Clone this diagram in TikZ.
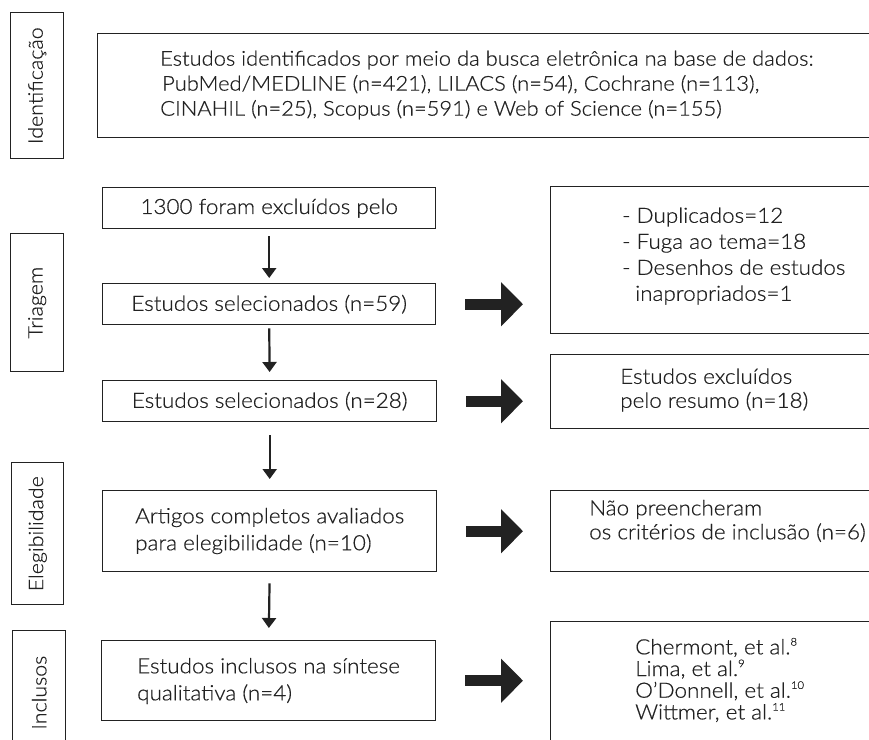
\documentclass[tikz,border=0pt]{standalone}
\usepackage{fontspec}
\setmainfont{Lato Light}[FakeStretch=1.07, FakeBold=0.5, Numbers=Lining]
\usetikzlibrary{arrows.meta}
\definecolor{ink}{HTML}{222222}
\newcommand{\supr}[1]{\raisebox{0.42em}{\fontsize{10.5}{10.5}\selectfont #1}}
\begin{document}
\begin{tikzpicture}[x=1pt,y=-1pt,
  box/.style={draw=ink, line width=1.4pt, inner sep=0pt, anchor=north west},
  txt/.style={text=ink, inner sep=0pt, align=left, font=\fontsize{21}{25.5}\selectfont},
  labtxt/.style={text=ink, inner sep=0pt, rotate=90, font=\fontsize{20}{24}\selectfont},
  thinarrow/.style={draw=ink, line width=2.2pt, -{Triangle[length=10pt,width=14pt]}},
  fatarrow/.style={draw=ink, line width=11pt, -{Triangle[length=22pt,width=43pt]}}
]
\clip (0,0) rectangle (869,739);
\fill[white] (0,0) rectangle (869,739);

% stage labels
\node[box, minimum width=53pt, minimum height=146pt] (labI) at (10,12) {};
\node[labtxt] (labIt) at (labI.center) {Identificação};
\node[box, minimum width=53pt, minimum height=138pt] (labT) at (10,233) {};
\node[labtxt] (labTt) at (labT.center) {Triagem};
\node[box, minimum width=52pt, minimum height=142pt] (labE) at (11,462) {};
\node[labtxt] (labEt) at (labE.center) {Elegibilidade};
\node[box, minimum width=53pt, minimum height=124pt] (labN) at (12,630) {};
\node[labtxt] (labNt) at (labN.center) {Inclusos};

% main column
\node[box, minimum width=800pt, minimum height=104pt] (T) at (97,33) {};
\node[txt, anchor=west, font=\fontsize{20.5}{25}\selectfont] (Tt) at (160,85) {Estudos identificados por meio da busca eletrônica na base de dados:\\
\hspace{2pt}PubMed/MEDLINE (n=421), LILACS (n=54), Cochrane (n=113),\\
CINAHIL (n=25), Scopus (n=591) e Web of Science (n=155)};

\node[box, minimum width=333pt, minimum height=41pt] (B1) at (102,187) {};
\node[txt] (B1t) at (B1.center) {1300 foram excluídos pelo};
\node[box, minimum width=333pt, minimum height=41pt] (B2) at (102,283) {};
\node[txt] (B2t) at (B2.center) {Estudos selecionados (n=59)};
\node[box, minimum width=334pt, minimum height=41pt] (B3) at (102,380) {};
\node[txt] (B3t) at (B3.center) {Estudos selecionados (n=28)};
\node[box, minimum width=334pt, minimum height=81pt] (B4) at (102,490) {};
\node[txt, anchor=west, font=\fontsize{21}{27}\selectfont] (B4t) at (135,531) {Artigos completos avaliados\\para elegibilidade (n=10)};
\node[box, minimum width=334pt, minimum height=80pt] (B5) at (101,640) {};
\node[txt, anchor=west, font=\fontsize{21}{27}\selectfont] (B5t) at (137,681) {Estudos inclusos na síntese\\qualitativa (n=4)};

% right column
\node[box, minimum width=340pt, minimum height=147pt] (R1) at (550,186) {};
\node[txt, anchor=west, font=\fontsize{21}{26}\selectfont] (R1t) at (622,256) {- Duplicados=12\\- Fuga ao tema=18\\- Desenhos de estudos\\\hspace{13pt}inapropriados=1};
\node[box, minimum width=340pt, minimum height=74pt] (R2) at (550,354) {};
\node[txt, anchor=west, font=\fontsize{21}{24}\selectfont] (R2t) at (620,390) {Estudos excluídos\\pelo resumo (n=18)};
\node[box, minimum width=340pt, minimum height=81pt] (R3) at (550,490) {};
\node[txt, anchor=west, font=\fontsize{21}{24}\selectfont] (R3t) at (589,521) {Não preencheram\\os critérios de inclusão (n=6)};
\node[box, minimum width=340pt, minimum height=140pt] (R4) at (550,621) {};
\node[txt, anchor=west, font=\fontsize{21}{21.7}\selectfont] (R4t) at (635,680) {Chermont, et al.\supr{8}\\Lima, et al.\supr{9}\\O’Donnell, et al.\supr{10}\\Wittmer, et al.\supr{11}};

% vertical arrows
\draw[thinarrow, shorten <=7pt, shorten >=5pt] (B1.south) -- (B2.north);
\draw[thinarrow, shorten <=3pt, shorten >=8pt] (B2.south) -- (B3.north);
\draw[thinarrow, shorten <=13pt, shorten >=11pt] (B3.south) -- (B4.north);
\draw[thinarrow, shorten <=11pt, shorten >=12pt] (B4.south) -- (B5.north);

% horizontal fat arrows
\draw[fatarrow, shorten <=29pt, shorten >=27pt] (B2.east) -- (B2.east -| R1.west);
\draw[fatarrow, shorten <=29pt, shorten >=27pt] (B3.east) -- (B3.east -| R2.west);
\draw[fatarrow, shorten <=29pt, shorten >=27pt] (B4.east) -- (B4.east -| R3.west);
\draw[fatarrow, shorten <=29pt, shorten >=27pt] (B5.east) -- (B5.east -| R4.west);
\end{tikzpicture}
\end{document}
